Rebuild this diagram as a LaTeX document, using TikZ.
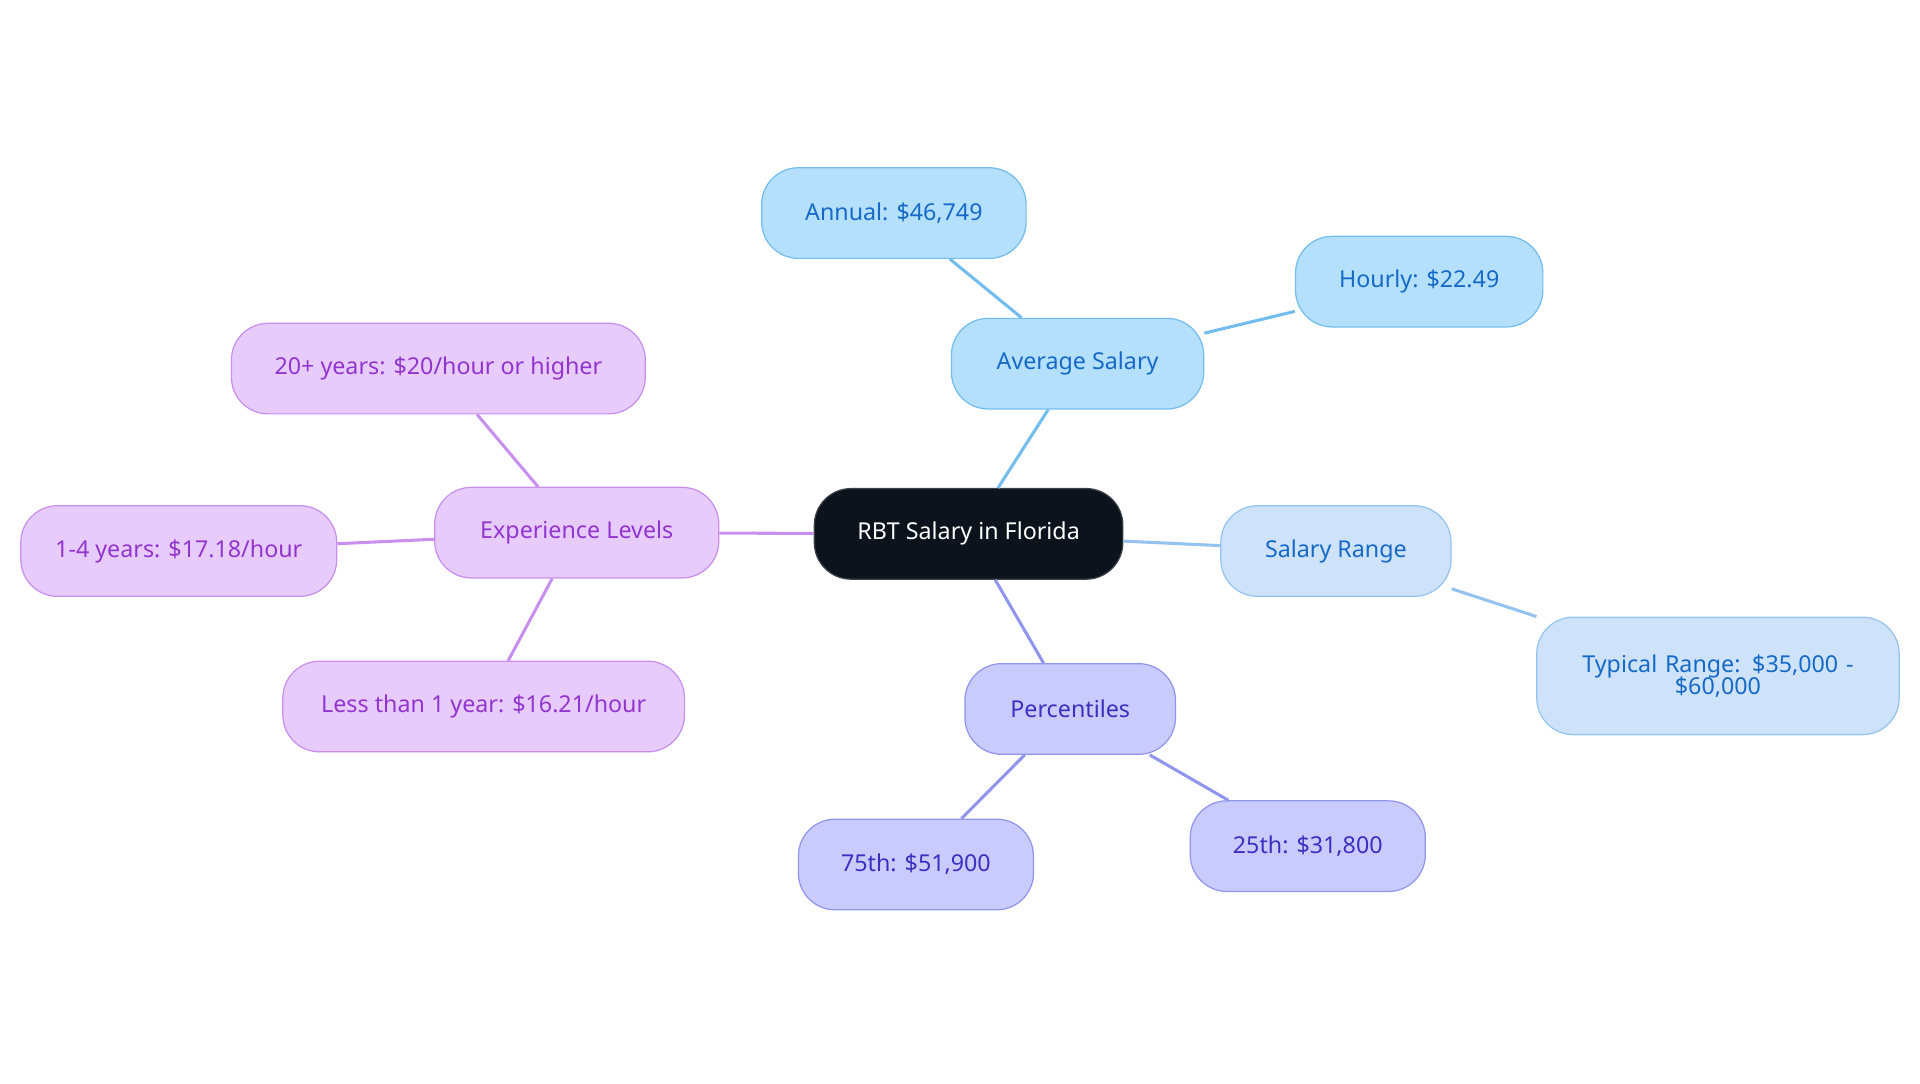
\documentclass[tikz,border=0pt]{standalone}
\usepackage{fontspec}
\setmainfont{Noto Sans}
\definecolor{rootfill}{HTML}{0D131C}
\definecolor{avgfill}{HTML}{B4E0FC}
\definecolor{avgline}{HTML}{72BDEE}
\definecolor{avgtext}{HTML}{1569C7}
\definecolor{rngfill}{HTML}{CEE3FA}
\definecolor{rngline}{HTML}{95C3F0}
\definecolor{pctfill}{HTML}{C9CBFC}
\definecolor{pctline}{HTML}{9096EE}
\definecolor{pcttext}{HTML}{3B2FC2}
\definecolor{expfill}{HTML}{E7CBFB}
\definecolor{expline}{HTML}{C98FEF}
\definecolor{exptext}{HTML}{9234CF}
\tikzset{
  box/.style={rounded corners=30pt, minimum height=74pt, line width=1pt, inner sep=6pt,
    font=\fontsize{19}{22}\selectfont, align=center},
  rootbox/.style={box, fill=rootfill, draw=rootfill!80!white, text=white},
  avgbox/.style={box, fill=avgfill, draw=avgline, text=avgtext},
  rngbox/.style={box, fill=rngfill, draw=rngline, text=avgtext},
  pctbox/.style={box, fill=pctfill, draw=pctline, text=pcttext},
  expbox/.style={box, fill=expfill, draw=expline, text=exptext},
  link/.style={line width=2.5pt}
}
\begin{document}
\begin{tikzpicture}[x=1pt, y=-1pt]
  \useasboundingbox (0,0) rectangle (1568,885);

  % Zentrum
  \node[rootbox, minimum width=252pt] (root) at (791,436) {RBT Salary in Florida};

  % Average Salary
  \node[avgbox, minimum width=206pt] (avg) at (880,297) {Average Salary};
  \node[avgbox, minimum width=216pt] (annual) at (730,174) {Annual: \$46,749};
  \node[avgbox, minimum width=202pt] (hourly) at (1159,230) {Hourly: \$22.49};

  % Salary Range
  \node[rngbox, minimum width=188pt] (range) at (1091,450) {Salary Range};
  \node[rngbox, minimum width=296pt, minimum height=96pt, text width=270pt] (typical) at (1403,552)
    {Typical Range: \$35,000 -\\[-4pt] \$60,000};

  % Percentiles
  \node[pctbox, minimum width=172pt] (pct) at (874,579) {Percentiles};
  \node[pctbox, minimum width=192pt] (p75) at (748,706) {75th: \$51,900};
  \node[pctbox, minimum width=192pt] (p25) at (1068,691) {25th: \$31,800};

  % Experience Levels
  \node[expbox, minimum width=232pt] (exp) at (471,435) {Experience Levels};
  \node[expbox, minimum width=338pt] (senior) at (358,301) {20+ years: \$20/hour or higher};
  \node[expbox, minimum width=258pt] (mid) at (146,450) {1-4 years: \$17.18/hour};
  \node[expbox, minimum width=328pt] (junior) at (395,577) {Less than 1 year: \$16.21/hour};

  % Verbindungen
  \begin{scope}[on background layer/.style={}]
    \draw[link, avgline] (root) -- (avg);
    \draw[link, avgline] (avg) -- (annual);
    \draw[link, avgline] (avg) -- (hourly);
    \draw[link, rngline] (root) -- (range);
    \draw[link, rngline] (range) -- (typical);
    \draw[link, pctline] (root) -- (pct);
    \draw[link, pctline] (pct) -- (p75);
    \draw[link, pctline] (pct) -- (p25);
    \draw[link, expline] (root) -- (exp);
    \draw[link, expline] (exp) -- (senior);
    \draw[link, expline] (exp) -- (mid);
    \draw[link, expline] (exp) -- (junior);
  \end{scope}
\end{tikzpicture}
\end{document}
